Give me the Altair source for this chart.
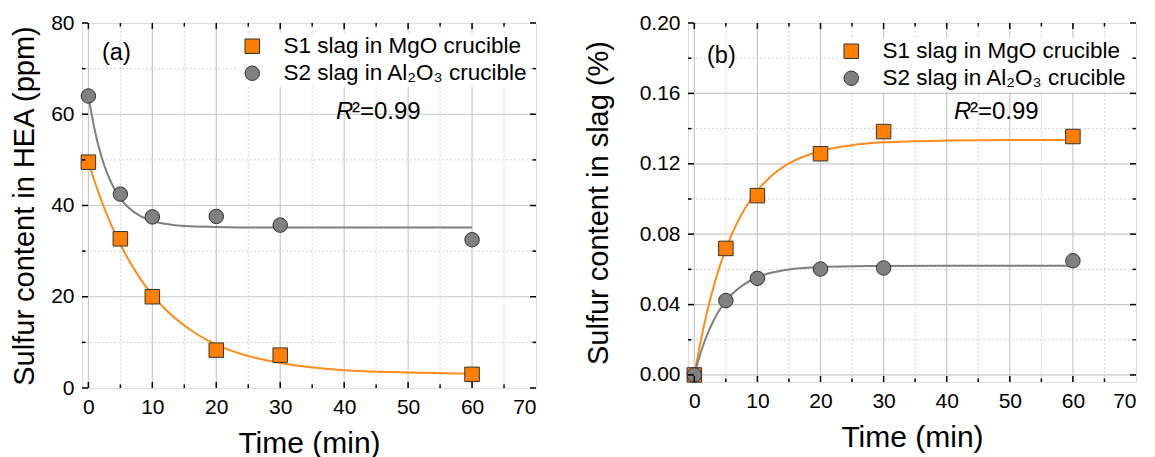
import altair as alt
import pandas as pd

# ---------------- data ----------------
SERIES = ["S1 slag in MgO crucible", "S2 slag in Al\u2082O\u2083 crucible"]
FIT_NAMES = ["S1 fit", "S2 fit"]
TIME = [0, 5, 10, 20, 30, 60]
A_S1 = [49.5, 32.7, 20.0, 8.3, 7.2, 3.0]
A_S2 = [64.0, 42.5, 37.5, 37.6, 35.7, 32.5]
B_S1 = [0.0, 0.0719, 0.1019, 0.1257, 0.1383, 0.1355]
B_S2 = [0.0, 0.0423, 0.0549, 0.0602, 0.0608, 0.0649]

FIT_T = [0, 1, 2, 3, 4, 5, 6, 8, 10, 12, 15, 20, 25, 30, 40, 50, 60]
A_FIT_S1 = [49.5, 45.2, 41.2, 37.6, 34.4, 31.5, 28.8, 24.2, 20.4, 17.3, 13.7, 9.5, 7.0, 5.5, 3.9, 3.4, 3.1]
A_FIT_S2 = [64.0, 56.5, 50.9, 46.8, 43.8, 41.5, 39.9, 37.8, 36.6, 36.0, 35.5, 35.3, 35.2, 35.2, 35.2, 35.2, 35.2]
B_FIT_S1 = [0.0, 0.0190, 0.0354, 0.0494, 0.0614, 0.0716, 0.0805, 0.0945, 0.1048, 0.1124, 0.1202,
            0.1273, 0.1306, 0.1322, 0.1332, 0.1335, 0.1335]
B_FIT_S2 = [0.0, 0.0125, 0.0225, 0.0305, 0.0369, 0.0419, 0.0460, 0.0518, 0.0555, 0.0579, 0.0599,
            0.0613, 0.0618, 0.0619, 0.0620, 0.0620, 0.0620]

X_LABELS = [0, 10, 20, 30, 40, 50, 60, 70]
X_MAJOR = [0, 10, 20, 30, 40, 50, 60, 70]
X_MINOR = [5, 15, 25, 35, 45, 55, 65]
A_Y_MAJOR = [0, 20, 40, 60, 80]
A_Y_MINOR = [10, 30, 50, 70]
B_Y_MAJOR = [0.0, 0.04, 0.08, 0.12, 0.16, 0.20]
B_Y_MINOR = [0.02, 0.06, 0.10, 0.14, 0.18]

FILL_COLORS = ["#FF8000", "#808080"]
LINE_COLORS = ["#FF8C1A", "#7F7F7F"]
SHAPES = ["square", "circle"]
FONT = "Liberation Sans"


def panel(s1, s2, f1, f2, xdom, ydom, W, H, y_major, y_minor, y_grid_major, yfmt,
          ytitle, tag, tagxy, r2xy, legxy, ytitlepad, top_extra):
    pts = pd.DataFrame({"t": TIME * 2, "v": s1 + s2,
                        "series": [SERIES[0]] * len(TIME) + [SERIES[1]] * len(TIME)})
    fit = pd.DataFrame({"t": FIT_T * 2, "v": f1 + f2,
                        "fitname": [FIT_NAMES[0]] * len(FIT_T) + [FIT_NAMES[1]] * len(FIT_T)})

    xs = alt.Scale(domain=xdom, nice=False, zero=False)
    ys = alt.Scale(domain=ydom, nice=False, zero=False)
    xa = alt.Axis(values=X_LABELS, title="Time (min)", ticks=False, domain=False, grid=False,
                  labelPadding=8, labelFontSize=21, titleFontSize=30, titleFontWeight="normal",
                  titlePadding=11, labelFont=FONT, titleFont=FONT, labelColor="black",
                  titleColor="black", format="d")
    ya = alt.Axis(values=y_major, title=ytitle, ticks=False, domain=False, grid=False,
                  labelPadding=8, labelFontSize=21, titleFontSize=29, titleFontWeight="normal",
                  titlePadding=ytitlepad, labelFont=FONT, titleFont=FONT, labelColor="black",
                  titleColor="black", format=yfmt)
    X = alt.X("t:Q", scale=xs, axis=xa)
    Y = alt.Y("v:Q", scale=ys, axis=ya)

    xmaj = pd.DataFrame({"t": [x for x in X_MAJOR if x < xdom[1]]})
    xmin = pd.DataFrame({"t": X_MINOR})
    ygmaj = pd.DataFrame({"v": y_grid_major})
    ymaj = pd.DataFrame({"v": y_major})
    ymin = pd.DataFrame({"v": y_minor})

    layers = []
    # minor grid (dotted)
    layers.append(alt.Chart(xmin).mark_rule(color="#d4d4d4", strokeWidth=1, strokeDash=[2, 2])
                  .encode(x=X, y=alt.value(0), y2=alt.value(H)))
    layers.append(alt.Chart(ymin).mark_rule(color="#d4d4d4", strokeWidth=1, strokeDash=[2, 2])
                  .encode(y=Y, x=alt.value(0), x2=alt.value(W)))
    # major grid
    layers.append(alt.Chart(xmaj).mark_rule(color="#c8c8c8", strokeWidth=1.2)
                  .encode(x=X, y=alt.value(0), y2=alt.value(H)))
    layers.append(alt.Chart(ygmaj).mark_rule(color="#c8c8c8", strokeWidth=1.2)
                  .encode(y=Y, x=alt.value(0), x2=alt.value(W)))
    # fitted curves
    layers.append(alt.Chart(fit).mark_line(strokeWidth=2, interpolate="monotone")
                  .encode(x=X, y=Y,
                          stroke=alt.Stroke("fitname:N",
                                            scale=alt.Scale(domain=FIT_NAMES, range=LINE_COLORS),
                                            legend=None)))
    # points
    leg = alt.Legend(title=None, orient="none", legendX=legxy[0], legendY=legxy[1],
                     fillColor="white", padding=2, labelFontSize=22.5, labelFont=FONT,
                     labelColor="black", symbolSize=210, labelLimit=500,
                     labelOffset=20, rowPadding=4, symbolOpacity=1, symbolStrokeWidth=1)
    layers.append(alt.Chart(pts).mark_point(filled=True, size=210, opacity=1)
                  .encode(x=X, y=Y,
                          fill=alt.Fill("series:N", scale=alt.Scale(domain=SERIES, range=FILL_COLORS),
                                        legend=leg),
                          shape=alt.Shape("series:N", scale=alt.Scale(domain=SERIES, range=SHAPES),
                                          legend=leg),
                          stroke=alt.value("#333333"),
                          strokeWidth=alt.value(1)))
    # inward ticks, all four sides
    tk = dict(color="black", strokeWidth=1.5)
    for df, ln in ((xmaj, 6), (xmin, 3.5)):
        layers.append(alt.Chart(df).mark_rule(**tk).encode(x=X, y=alt.value(H), y2=alt.value(H - ln)))
        layers.append(alt.Chart(df).mark_rule(**tk).encode(x=X, y=alt.value(0), y2=alt.value(ln)))
    for df, ln in ((ymaj, 6), (ymin, 3.5)):
        layers.append(alt.Chart(df).mark_rule(**tk).encode(y=Y, x=alt.value(0), x2=alt.value(ln)))
        layers.append(alt.Chart(df).mark_rule(**tk).encode(y=Y, x=alt.value(W), x2=alt.value(W - ln)))
    # annotations
    layers.append(alt.Chart(pd.DataFrame({"s": [tag]})).mark_text(
        fontSize=23.5, font=FONT, color="black", align="left", baseline="middle")
        .encode(text="s:N", x=alt.value(tagxy[0]), y=alt.value(tagxy[1])))
    layers.append(alt.Chart(pd.DataFrame({"s": ["R"]})).mark_text(
        fontSize=24, font=FONT, fontStyle="italic", color="black", align="left", baseline="middle")
        .encode(text="s:N", x=alt.value(r2xy[0]), y=alt.value(r2xy[1])))
    layers.append(alt.Chart(pd.DataFrame({"s": ["\u00b2=0.99"]})).mark_text(
        fontSize=24, font=FONT, color="black", align="left", baseline="middle")
        .encode(text="s:N", x=alt.value(r2xy[0] + 16), y=alt.value(r2xy[1])))
    if top_extra:
        layers.append(alt.Chart(pd.DataFrame({"s": [0]})).mark_rule(opacity=0)
                      .encode(y=alt.value(-top_extra), x=alt.value(0), x2=alt.value(4)))
    return alt.layer(*layers).properties(width=W, height=H)


pa = panel(A_S1, A_S2, A_FIT_S1, A_FIT_S2, [-1, 70], [0, 80], 454, 365,
           A_Y_MAJOR, A_Y_MINOR, [20, 40, 60], "d", "Sulfur content in HEA (ppm)",
           "(a)", (20, 30), (254, 89), (157, 10), 11, 0)
pb = panel(B_S1, B_S2, B_FIT_S1, B_FIT_S2, [-1, 70], [-0.004, 0.20], 448, 359,
           B_Y_MAJOR, B_Y_MINOR, [0.0, 0.04, 0.08, 0.12, 0.16], ".2f", "Sulfur content in slag (%)",
           "(b)", (19, 33), (266, 89), (150, 15), 26, 14)

chart = alt.hconcat(pa, pb, spacing=45).resolve_scale(
    fill="independent", shape="independent", stroke="independent"
).resolve_legend(fill="independent", shape="independent").properties(
    padding={"left": 2, "top": 0, "right": 0, "bottom": 0}
).configure_view(stroke="black", strokeWidth=2).configure(background="white")

chart.save("out.html", embed_options={"renderer": "svg", "actions": False})
